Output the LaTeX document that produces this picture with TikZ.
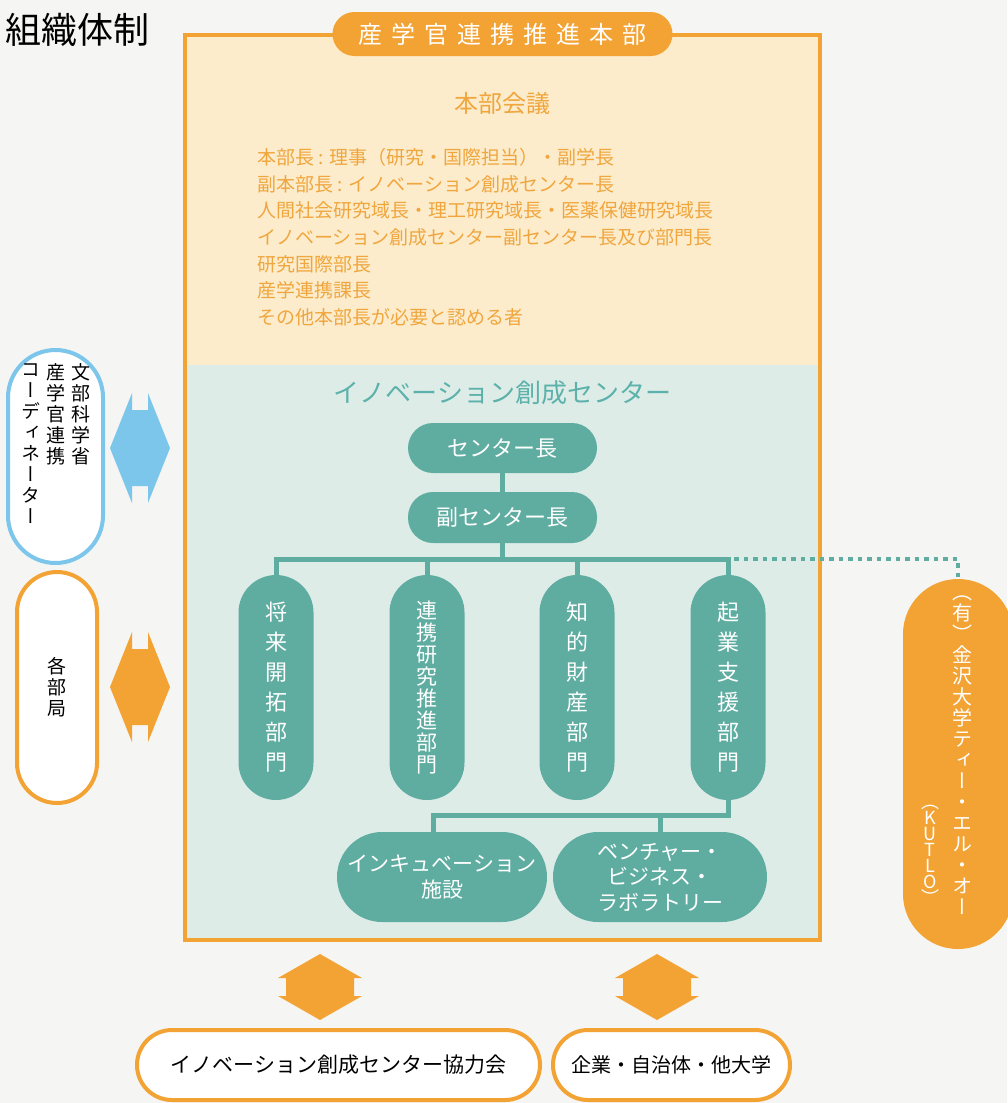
\documentclass[tikz,border=0pt]{standalone}
\usepackage{fontspec}
\newfontfamily\jp{Noto Sans CJK JP}
\newfontfamily\jpv[RawFeature=+vert]{Noto Sans CJK JP}
\definecolor{pagebg}{RGB}{245,245,243}
\definecolor{orng}{RGB}{243,163,52}
\definecolor{yel}{RGB}{252,236,203}
\definecolor{tealbg}{RGB}{222,236,232}
\definecolor{tealpill}{RGB}{95,173,161}
\definecolor{tealtxt}{RGB}{92,178,170}
\definecolor{listtxt}{RGB}{240,166,62}
\definecolor{blu}{RGB}{125,198,235}
\tikzset{
  tpill/.style={fill=tealpill, text=white, inner sep=0pt, rounded corners=#1},
  opill/.style={draw=orng, line width=4pt, fill=white, inner sep=0pt, rounded corners=#1},
  conn/.style={draw=tealpill, line width=5pt},
  dotconn/.style={draw=tealpill, line width=4.5pt, dash pattern=on 4.5pt off 5pt},
}
\newcommand\hdarrow[2]{\fill[#1,shift={(#2)}] (-30,0) -- (-8,-55) -- (-8,-38) -- (8,-38) -- (8,-55) -- (30,0) -- (8,55) -- (8,38) -- (-8,38) -- (-8,55) -- cycle;}
\newcommand\vdarrow[2]{\fill[#1,shift={(#2)}] (0,-33) -- (42,-9) -- (34,-9) -- (34,9) -- (42,9) -- (0,33) -- (-42,9) -- (-34,9) -- (-34,-9) -- (-42,-9) -- cycle;}
\begin{document}
\begin{tikzpicture}[x=1pt,y=-1pt]
\useasboundingbox (0,0) rectangle (1007,1103);
\fill[pagebg] (0,0) rectangle (1007,1103);
% title
\node[anchor=west, inner sep=0pt, font=\jp\fontsize{36}{38}\selectfont] (title) at (5,30) {組織体制};
% main box
\fill[yel] (185,35) rectangle (820,365);
\fill[tealbg] (185,365) rectangle (820,940);
\node[draw=orng, line width=4.5pt, minimum width=635pt, minimum height=905pt, inner sep=0pt] (hq) at (502.5,487.5) {};
\node[fill=orng, text=white, rounded corners=22pt, minimum width=340pt, minimum height=44pt, inner sep=0pt,
  font=\jp\fontsize{24}{26}\selectfont] (tab) at (502.5,34)
  {産\hspace{9pt}学\hspace{9pt}官\hspace{9pt}連\hspace{9pt}携\hspace{9pt}推\hspace{9pt}進\hspace{9pt}本\hspace{9pt}部};
\node[text=listtxt, font=\jp\fontsize{24}{26}\selectfont] (kaigi) at (502.5,103) {本部会議};
\node[anchor=north west, align=left, inner sep=0pt, text=listtxt, font=\jp\fontsize{19}{26.7}\selectfont] (members) at (257,148)
  {本部長 : 理事（研究・国際担当）・副学長\\
   副本部長 : イノベーション創成センター長\\
   人間社会研究域長・理工研究域長・医薬保健研究域長\\
   イノベーション創成センター副センター長及び部門長\\
   研究国際部長\\
   産学連携課長\\
   その他本部長が必要と認める者};
\node[text=tealtxt, font=\jp\fontsize{26}{28}\selectfont] (center) at (502.5,393) {イノベーション創成センター};
% teal pills
\node[tpill=25pt, minimum width=189pt, minimum height=50pt, font=\jp\fontsize{22}{24}\selectfont] (cl) at (502.5,448) {センター長};
\node[tpill=25pt, minimum width=189pt, minimum height=51pt, font=\jp\fontsize{22}{24}\selectfont] (vcl) at (502.5,517.5) {副センター長};
\node[tpill=37.5pt, minimum width=75pt, minimum height=225pt, align=center, font=\jpv\fontsize{22}{30}\selectfont] (d1) at (276,687.5) {将\\来\\開\\拓\\部\\門};
\node[tpill=37.5pt, minimum width=75pt, minimum height=225pt, align=center, font=\jpv\fontsize{21}{22}\selectfont] (d2) at (427,687.5) {連\\携\\研\\究\\推\\進\\部\\門};
\node[tpill=37.5pt, minimum width=75pt, minimum height=225pt, align=center, font=\jpv\fontsize{22}{30}\selectfont] (d3) at (577,687.5) {知\\的\\財\\産\\部\\門};
\node[tpill=37.5pt, minimum width=75pt, minimum height=225pt, align=center, font=\jpv\fontsize{22}{30}\selectfont] (d4) at (728,687.5) {起\\業\\支\\援\\部\\門};
\node[tpill=45pt, minimum width=210pt, minimum height=90pt, align=center, font=\jp\fontsize{21}{25.5}\selectfont] (inc) at (442,877) {インキュベーション\\施設};
\node[tpill=45pt, minimum width=214pt, minimum height=90pt, align=center, font=\jp\fontsize{21}{25.5}\selectfont] (ven) at (660,877) {ベンチャー・\\ビジネス・\\ラボラトリー};
% KUTLO
\node[fill=orng, rounded corners=55pt, minimum width=110pt, minimum height=370pt, inner sep=0pt] (kutlo) at (958,764) {};
\node[anchor=north, inner sep=0pt, text=white, align=center, font=\jpv\fontsize{20}{21}\selectfont] (kutlo1) at (962,596)
  {（\\有\\）\\金\\沢\\大\\学\\テ\\ィ\\ー\\・\\エ\\ル\\・\\オ\\ー};
\node[anchor=south, inner sep=0pt, text=white, align=center, font=\jpv\fontsize{18}{16}\selectfont] (kutlo2) at (930,905)
  {（\\K\\U\\T\\L\\O\\）};
% connectors
\coordinate (bus) at (502.5,559);
\coordinate (lbus) at (502.5,815);
\draw[conn] (cl.south) -- (vcl.north);
\draw[conn] (vcl.south) -- (bus);
\draw[conn, line join=miter] (d1.north) -- (d1.north |- bus) -- (d4.north |- bus) -- (d4.north);
\draw[conn] (d2.north) -- (d2.north |- bus);
\draw[conn] (d3.north) -- (d3.north |- bus);
\draw[dotconn] ([xshift=6pt]d4.north |- bus) -| (kutlo.north);
\draw[conn, line join=miter] (d4.south) -- (d4.south |- lbus) -- ([xshift=-9pt]inc.north |- lbus) -- ([xshift=-9pt]inc.north);
\draw[conn] (ven.north) -- (ven.north |- lbus);
% left pills
\node[draw=blu, line width=4pt, fill=white, rounded corners=47.5pt, minimum width=95pt, minimum height=213pt, inner sep=0pt] (mext) at (55.5,456.5) {};
\node[anchor=north, inner sep=0pt, align=center, font=\jpv\fontsize{19}{21}\selectfont] (mext1) at (81,363) {文\\部\\科\\学\\省};
\node[anchor=north, inner sep=0pt, align=center, font=\jpv\fontsize{19}{21}\selectfont] (mext2) at (56,363) {産\\学\\官\\連\\携};
\node[anchor=north, inner sep=0pt, align=center, font=\jpv\fontsize{19}{21}\selectfont] (mext3) at (31,363) {コ\\ー\\デ\\ィ\\ネ\\ー\\タ\\ー};
\node[opill=40pt, minimum width=80pt, minimum height=231pt, align=center, font=\jpv\fontsize{19}{21}\selectfont] (kbk) at (57,687.5) {各\\部\\局};
% arrows
\hdarrow{blu}{140,448}
\hdarrow{orng}{140,687}
\vdarrow{orng}{320,987}
\vdarrow{orng}{657,987}
% bottom pills
\node[opill=35pt, minimum width=403pt, minimum height=70pt, font=\jp\fontsize{21}{23}\selectfont] (coop) at (338.5,1065) {イノベーション創成センター協力会};
\node[opill=35pt, minimum width=237pt, minimum height=70pt, font=\jp\fontsize{20}{23}\selectfont] (ent) at (671.5,1065) {企業・自治体・他大学};
\end{tikzpicture}
\end{document}
